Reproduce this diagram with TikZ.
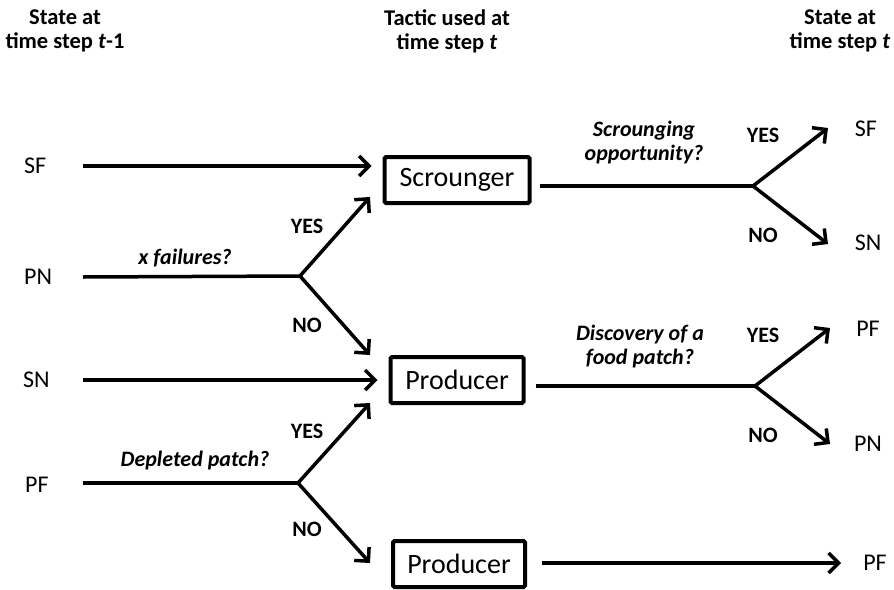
\documentclass[tikz,border=0pt]{standalone}
\usepackage{fontspec}
\setmainfont{Carlito}
\usetikzlibrary{arrows.meta,calc}

\begin{document}
\begin{tikzpicture}[x=1pt,y=-1pt,
                flow/.style={line width=3.5pt, line join=round},
                arr/.style={flow, -{Straight Barb[length=10pt,width=20pt]}},
                tactic/.style={draw, line width=4pt, rounded corners=1.5pt, minimum height=46pt, inner sep=0pt, font=\fontsize{28}{30}\selectfont},
                state/.style={inner sep=0pt, font=\fontsize{24}{26}\selectfont},
                head/.style={align=center, font=\fontsize{22.5}{24}\selectfont\bfseries},
                ask/.style={align=center, font=\fontsize{22}{24}\selectfont\bfseries\itshape},
                ans/.style={inner sep=0pt, font=\fontsize{22}{24}\selectfont\bfseries}]
                \useasboundingbox (0,0) rectangle (894,589);
                \node[head] (hIn) at (65,31) {State at\\time step \textit{t}-1};
                \node[head] (hTac) at (447,31) {Tactic used at\\time step \textit{t}};
                \node[head] (hOut) at (840,31) {State at\\time step \textit{t}};
                \node[tactic, minimum width=145pt] (scr) at (457,180) {Scrounger};
                \node[tactic, minimum width=133pt] (prodA) at (457,380) {Producer};
                \node[tactic, minimum width=132pt] (prodB) at (459,564) {Producer};
                \node[state, anchor=west] (inSF) at (24,166) {SF};
                \node[state, anchor=west] (inPN) at (24,277) {PN};
                \node[state, anchor=west] (inSN) at (23,380) {SN};
                \node[state, anchor=west] (inPF) at (25,485) {PF};
                \node[state] (outSF) at (866,129) {SF};
                \node[state] (outSN) at (868,243) {SN};
                \node[state] (outPF) at (868,329) {PF};
                \node[state] (outPN) at (868,444) {PN};
                \node[state] (outPFb) at (875,563) {PF};
                \coordinate (lx) at (83,0);
                \coordinate (forkPN) at (300,276);
                \coordinate (forkPF) at (298,483);
                \coordinate (forkScr) at (753,186);
                \coordinate (forkProd) at (755,386);
                \coordinate (tipScr) at (370,197);
                \coordinate (tipProdA) at (370,355);
                \coordinate (tipProdB) at (370,403);
                \coordinate (tipProdC) at (370,563);
                \coordinate (tipSF) at (828,128);
                \coordinate (tipSN) at (828,244);
                \coordinate (tipPF) at (830,328);
                \coordinate (tipPN) at (830,444);
                \draw[arr, shorten >=11pt] (inSF -| lx) -- (inSF -| scr.west);
                \draw[arr, shorten >=11pt] (inSN -| lx) -- (inSN -| prodA.west);
                \draw[flow] (inPN -| lx) -- (forkPN);
                \draw[arr] (forkPN) -- (tipScr);
                \draw[arr] (forkPN) -- (tipProdA);
                \draw[flow] (forkPF -| lx) -- (forkPF);
                \draw[arr] (forkPF) -- (tipProdB);
                \draw[arr] (forkPF) -- (tipProdC);
                \draw[flow, shorten <=8pt] (scr.east |- forkScr) -- (forkScr);
                \draw[arr] (forkScr) -- (tipSF);
                \draw[arr] (forkScr) -- (tipSN);
                \draw[flow, shorten <=10pt] (prodA.east |- forkProd) -- (forkProd);
                \draw[arr] (forkProd) -- (tipPF);
                \draw[arr] (forkProd) -- (tipPN);
                \draw[arr, shorten <=15pt, shorten >=34pt] (prodB.east |- outPFb) -- (outPFb.center);
                \node[ask] (qFail) at (185,258) {x failures?};
                \node[ans] (yesPN) at (307,226) {YES};
                \node[ans] (noPN) at (307,325) {NO};
                \node[ask] (qDepl) at (195,461) {Depleted patch?};
                \node[ans] (yesPF) at (307,431) {YES};
                \node[ans] (noPF) at (307,529) {NO};
                \node[ask] (qScr) at (644,143) {Scrounging\\opportunity?};
                \node[ans] (yesScr) at (763,135) {YES};
                \node[ans] (noScr) at (763,235) {NO};
                \node[ask] (qDisc) at (640,347) {Discovery of a\\food patch?};
                \node[ans] (yesProd) at (763,335) {YES};
                \node[ans] (noProd) at (763,435) {NO};
            \end{tikzpicture}
\end{document}
